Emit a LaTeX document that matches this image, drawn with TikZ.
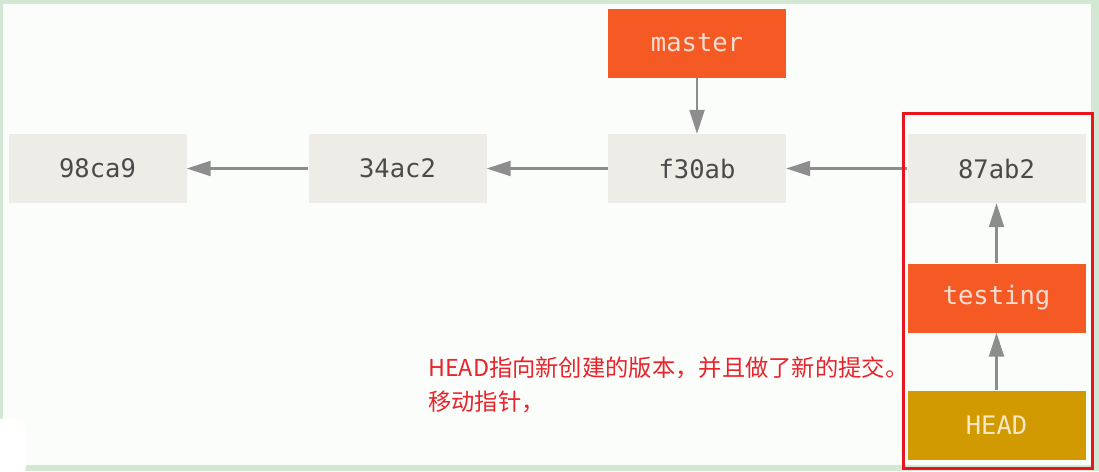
\documentclass[tikz,border=0pt]{standalone}
\usepackage{fontspec}
\setmonofont{DejaVu Sans Mono}
\newfontfamily\cjk{Noto Sans CJK SC}
\usetikzlibrary{arrows.meta}
\definecolor{frameg}{HTML}{D3E8D2}
\definecolor{bgc}{HTML}{FBFDFB}
\definecolor{commitc}{HTML}{EDECE7}
\definecolor{committ}{HTML}{4A4A4A}
\definecolor{branchc}{HTML}{F55A25}
\definecolor{branchtxt}{HTML}{F6DDD2}
\definecolor{headc}{HTML}{D09A00}
\definecolor{headtxt}{HTML}{F5E6C6}
\definecolor{arrc}{HTML}{8D8D8D}
\definecolor{notec}{HTML}{E8232B}
\definecolor{markc}{HTML}{E8141E}
\begin{document}
\begin{tikzpicture}[x=1pt,y=-1pt,
 box/.style={rectangle,minimum width=178pt,minimum height=69pt,inner sep=0pt,font=\ttfamily\fontsize{25.5}{30}\selectfont},
 commit/.style={box,fill=commitc,text=committ},
 branch/.style={box,fill=branchc,text=branchtxt},
 headbox/.style={box,fill=headc,text=headtxt},
 arr/.style={draw=arrc,line width=2.2pt,-{Triangle[length=24pt,width=15pt]}},
 note/.style={anchor=base west,text=notec,inner sep=0pt,font=\cjk\fontsize{23.3}{30}\selectfont}]
\useasboundingbox (0,0) rectangle (1099,471);
\fill[frameg] (0,0) rectangle (1099,471);
\fill[bgc] (3,4) rectangle (1091,465);
\fill[white,rounded corners=10pt] (-5,418) rectangle (26,476);
\node[commit] (c1) at (97.5,168.5) {98ca9};
\node[commit] (c2) at (397.5,168.5) {34ac2};
\node[commit] (c3) at (697,168.5) {f30ab};
\node[commit] (c4) at (996.5,168.5) {87ab2};
\node[branch] (master) at (697,43) {master};
\node[branch] (testing) at (996.5,298) {testing};
\node[headbox] (head) at (996.5,425) {HEAD};
\draw[arr] (c2) -- (c1);
\draw[arr] (c3) -- (c2);
\draw[arr] (c4) -- (c3);
\draw[arr] (master) -- (c3);
\draw[arr] (testing) -- (c4);
\draw[arr] (head) -- (testing);
\node[note] (l1) at (428,376) {HEAD指向新创建的版本，并且做了新的提交。};
\node[note] (l2) at (428,410) {移动指针，};
\node[draw=markc,line width=3pt,minimum width=189pt,minimum height=355pt,inner sep=0pt] (mark) at (997.5,290.5) {};
\end{tikzpicture}
\end{document}
